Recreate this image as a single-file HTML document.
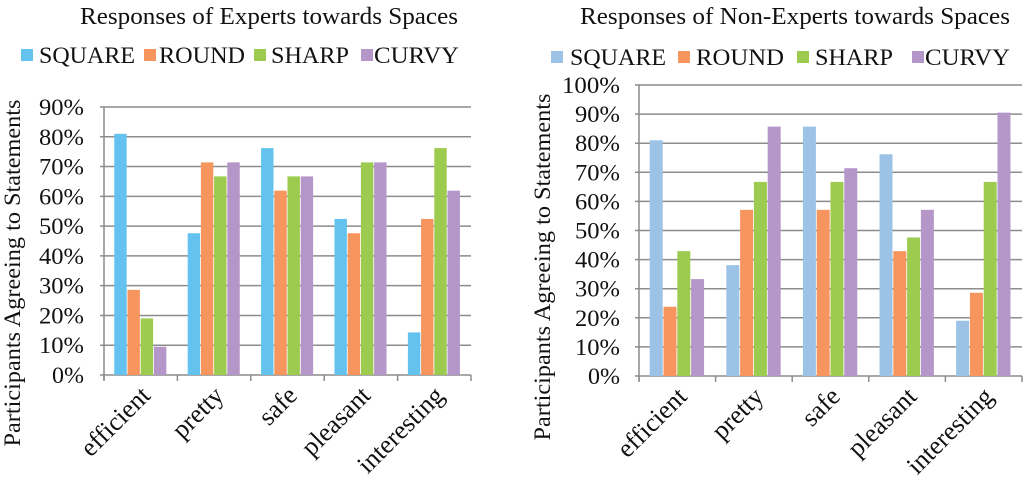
<!DOCTYPE html>
<html><head><meta charset="utf-8"><style>
html,body{margin:0;padding:0;background:#fff;width:1024px;height:482px;overflow:hidden}
svg{display:block}
text{font-family:"Liberation Serif",serif;fill:#111}
</style></head><body>
<svg id="s" width="1024" height="482" viewBox="0 0 1024 482"></svg>
<script>
const categories=["efficient","pretty","safe","pleasant","interesting"];
const seriesNames=["SQUARE","ROUND","SHARP","CURVY"];
const expSquare=[81,47.6,76.2,52.4,14.3];
const expRound=[28.6,71.4,61.9,47.6,52.4];
const expSharp=[19,66.7,66.7,71.4,76.2];
const expCurvy=[9.5,71.4,66.7,71.4,61.9];
const nonSquare=[81,38.1,85.7,76.2,19];
const nonRound=[23.8,57.1,57.1,42.9,28.6];
const nonSharp=[42.9,66.7,66.7,47.6,66.7];
const nonCurvy=[33.3,85.7,71.4,57.1,90.5];
const expTicks=[0,10,20,30,40,50,60,70,80,90];
const nonTicks=[0,10,20,30,40,50,60,70,80,90,100];

const NS="http://www.w3.org/2000/svg";
const svg=document.getElementById('s');
function mk(tag,attrs,parent,txt){const e=document.createElementNS(NS,tag);for(const k in attrs)e.setAttribute(k,attrs[k]);if(txt!==undefined)e.textContent=txt;(parent||svg).appendChild(e);return e;}

function chart(cfg){
  const g=mk('g',{});
  
  
  const t=mk('text',{x:cfg.titleX,y:24,'font-size':24,'text-anchor':'middle',textLength:cfg.titleW,lengthAdjust:'spacingAndGlyphs'},g,cfg.title);
  
  
  const yMax=cfg.ticks[cfg.ticks.length-1];
  const y=v=>cfg.y0-(v/yMax)*(cfg.y0-cfg.yTop);
  const cw=(cfg.x1-cfg.x0)/categories.length;
  const x=i=>cfg.x0+i*cw;
  cfg.ticks.forEach(v=>{
    const l=mk('line',{x1:cfg.x0-4,x2:cfg.x1,y1:y(v),y2:y(v),stroke:'#8c8c8c','stroke-width':1.5},g);
    
    
    const s=v+'%';
    const tl=mk('text',{x:cfg.labX,y:y(v)+8,'font-size':23,'text-anchor':'end',textLength:(s.length===3?45:s.length===4?58:32),lengthAdjust:'spacingAndGlyphs'},g,s);
    
    
  });
  const ax=mk('line',{x1:cfg.x0,x2:cfg.x0,y1:y(yMax),y2:cfg.y0+5,stroke:'#8c8c8c','stroke-width':1.5},g);
  
  
  for(let i=0;i<=categories.length;i++){
    const tk=mk('line',{x1:x(i),x2:x(i),y1:cfg.y0,y2:cfg.y0+6,stroke:'#8c8c8c','stroke-width':1.5},g);
    
    
  }
  const bw=cw*0.18;
  categories.forEach((c,i)=>{
    const start=x(i)+(cw-4*bw)/2;
    cfg.series.forEach((s,j)=>{
      const r=mk('rect',{x:start+j*bw,y:y(s[i]),width:bw-0.8,height:cfg.y0-y(s[i]),fill:cfg.colors[j]},g);
      
      
    });
    const cx=x(i)+cw/2+11, cy=cfg.y0+22;
    const xl=mk('text',{x:cx,y:cy,'font-size':26,'text-anchor':'end',transform:`rotate(-45 ${cx} ${cy})`},g,c);
    
    
  });
  const yt=mk('text',{x:cfg.yTitleX,y:cfg.yTitleY,'font-size':23,'text-anchor':'middle',textLength:cfg.yTitleW,lengthAdjust:'spacingAndGlyphs',transform:`rotate(-90 ${cfg.yTitleX} ${cfg.yTitleY})`},g,'Participants  Agreeing to Statements');
  
  
  seriesNames.forEach((n,j)=>{
    const lg=mk('g',{},g);
    
    
    mk('rect',{x:cfg.legSq[j],y:cfg.legY-14,width:12,height:12,fill:cfg.colors[j]},lg);
    mk('text',{x:cfg.legTx[j],y:cfg.legY,'font-size':23,textLength:cfg.legW[j],lengthAdjust:'spacingAndGlyphs'},lg,n);
  });
}
chart({name:'experts-chart',title:'Responses of Experts towards Spaces',titleX:269,titleW:378,
  x0:104,x1:471,y0:375,yTop:107,ticks:expTicks,labX:84,yTitleX:20,yTitleY:273,yTitleW:347,
  series:[expSquare,expRound,expSharp,expCurvy],
  colors:['#63c3ee','#f7955f','#9dcb4f','#b596c8'],
  legY:63,legSq:[21,144,254,361],legTx:[39,159,271,374],legW:[96,86,78,85]});
chart({name:'non-experts-chart',title:'Responses of Non-Experts towards Spaces',titleX:795,titleW:430,
  x0:639,x1:1022,y0:376,yTop:85,ticks:nonTicks,labX:620,yTitleX:550,yTitleY:267,yTitleW:347,
  series:[nonSquare,nonRound,nonSharp,nonCurvy],
  colors:['#9cc3e6','#f7955f','#9dcb4f','#b596c8'],
  legY:65,legSq:[551,678,797,912],legTx:[570,696,815,925],legW:[96,88,78,85]});
</script>
</body></html>
